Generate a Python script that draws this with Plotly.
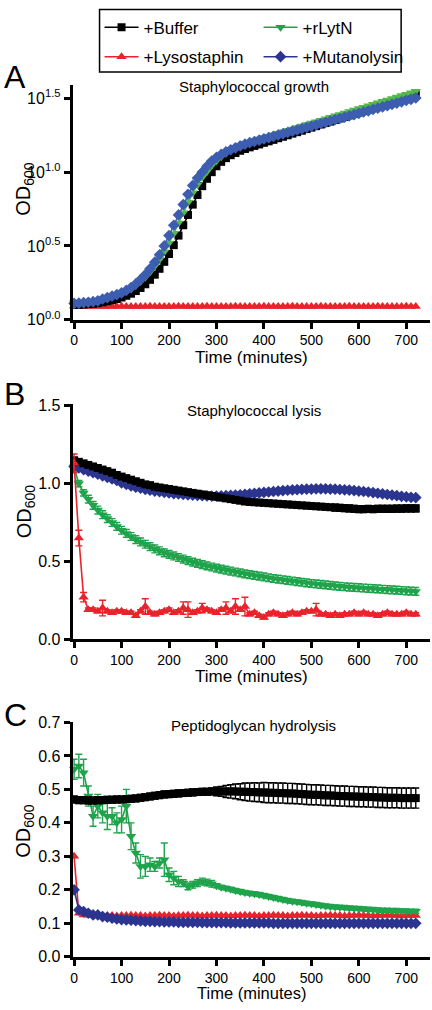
import plotly.graph_objects as go

# ---------------- data ----------------
time_min = list(range(0, 730, 10))  # sampling times (minutes)

# Panel A: growth, values are log10(OD600) exponents as read from the 10^x axis
A_buffer = [0.100,0.101,0.103,0.105,0.108,0.112,0.118,0.125,0.132,0.140,
            0.150,0.162,0.176,0.194,0.215,0.240,0.270,0.305,0.345,0.392,
            0.445,0.505,0.570,0.640,0.710,0.780,0.845,0.905,0.955,1.000,
            1.040,1.070,1.095,1.115,1.130,1.145,1.157,1.168,1.178,1.188,
            1.199,1.209,1.219,1.230,1.240,1.250,1.261,1.271,1.281,1.292,
            1.302,1.312,1.323,1.333,1.343,1.354,1.364,1.374,1.385,1.395,
            1.405,1.416,1.426,1.436,1.447,1.457,1.467,1.478,1.488,1.498,
            1.509,1.519,1.530]
A_rlytn = [0.115,0.117,0.120,0.123,0.127,0.132,0.140,0.148,0.157,0.167,
           0.178,0.192,0.210,0.232,0.258,0.288,0.323,0.363,0.408,0.460,
           0.520,0.585,0.655,0.725,0.795,0.860,0.915,0.965,1.005,1.045,
           1.078,1.105,1.128,1.148,1.165,1.180,1.193,1.205,1.215,1.225,
           1.235,1.244,1.254,1.264,1.274,1.284,1.293,1.303,1.313,1.323,
           1.333,1.342,1.352,1.362,1.372,1.382,1.391,1.401,1.411,1.421,
           1.431,1.440,1.450,1.460,1.470,1.480,1.489,1.499,1.509,1.519,
           1.529,1.538,1.548]
A_lyso = [0.092,0.091,0.090,0.090,0.091,0.090,0.090,0.089,0.090,0.090,
          0.091,0.090,0.090,0.089,0.090,0.090,0.091,0.090,0.090,0.089,
          0.090,0.090,0.091,0.090,0.090,0.089,0.090,0.090,0.091,0.090,
          0.090,0.089,0.090,0.090,0.091,0.090,0.090,0.089,0.090,0.090,
          0.091,0.090,0.090,0.089,0.090,0.090,0.091,0.090,0.090,0.089,
          0.090,0.090,0.091,0.090,0.090,0.089,0.090,0.090,0.091,0.090,
          0.090,0.089,0.090,0.090,0.091,0.090,0.090,0.089,0.090,0.090,
          0.091,0.090,0.090]
A_muta = [0.110,0.112,0.115,0.118,0.122,0.128,0.140,0.150,0.160,0.170,
          0.182,0.198,0.218,0.242,0.272,0.305,0.345,0.390,0.440,0.500,
          0.570,0.640,0.710,0.780,0.850,0.910,0.960,1.000,1.040,1.075,
          1.100,1.120,1.138,1.152,1.165,1.178,1.190,1.200,1.208,1.217,
          1.226,1.234,1.243,1.252,1.260,1.269,1.278,1.286,1.295,1.304,
          1.312,1.321,1.330,1.338,1.347,1.356,1.364,1.373,1.382,1.390,
          1.399,1.408,1.416,1.425,1.434,1.442,1.451,1.460,1.468,1.477,
          1.486,1.494,1.503]

# Panel B: lysis (OD600)
B_buffer = [1.150,1.140,1.130,1.120,1.110,1.100,1.090,1.080,1.070,1.055,
            1.045,1.035,1.025,1.015,1.005,0.995,0.990,0.980,0.975,0.970,
            0.965,0.960,0.955,0.950,0.945,0.940,0.935,0.930,0.925,0.920,
            0.915,0.910,0.905,0.900,0.895,0.890,0.885,0.882,0.880,0.878,
            0.876,0.874,0.872,0.870,0.868,0.866,0.864,0.862,0.860,0.858,
            0.856,0.854,0.852,0.850,0.848,0.846,0.844,0.842,0.840,0.838,
            0.836,0.836,0.837,0.836,0.838,0.838,0.838,0.838,0.839,0.839,
            0.840,0.840,0.840]
B_buffer_err = [0.008]*40 + [0.012]*15 + [0.022]*18
B_rlytn = [1.100,1.000,0.940,0.900,0.860,0.830,0.800,0.775,0.750,0.725,
           0.700,0.680,0.660,0.640,0.625,0.610,0.595,0.580,0.568,0.555,
           0.545,0.535,0.525,0.515,0.505,0.495,0.487,0.479,0.471,0.464,
           0.457,0.450,0.444,0.438,0.432,0.426,0.420,0.415,0.410,0.405,
           0.400,0.395,0.390,0.386,0.382,0.378,0.374,0.370,0.366,0.362,
           0.358,0.355,0.352,0.349,0.346,0.343,0.340,0.337,0.335,0.333,
           0.331,0.329,0.327,0.325,0.323,0.321,0.319,0.317,0.315,0.313,
           0.311,0.309,0.307]
B_rlytn_err = [0.02]*3 + [0.025]*70
B_lyso = [1.130,0.650,0.270,0.190,0.190,0.180,0.200,0.180,0.170,0.180,
          0.180,0.170,0.170,0.150,0.180,0.210,0.170,0.160,0.170,0.180,
          0.190,0.170,0.180,0.200,0.190,0.170,0.180,0.200,0.190,0.180,
          0.170,0.190,0.200,0.180,0.210,0.190,0.210,0.160,0.170,0.150,
          0.140,0.160,0.170,0.160,0.150,0.160,0.170,0.160,0.170,0.180,
          0.180,0.190,0.160,0.160,0.150,0.160,0.150,0.160,0.160,0.170,
          0.160,0.170,0.160,0.160,0.150,0.160,0.170,0.160,0.160,0.160,
          0.170,0.160,0.160]
B_lyso_err = [0.06,0.05,0.03,0.01,0.01,0.01,0.05,0.01,0.01,0.01,
              0.01,0.01,0.01,0.01,0.01,0.05,0.01,0.01,0.01,0.01,
              0.01,0.01,0.01,0.04,0.05,0.01,0.01,0.03,0.01,0.01,
              0.01,0.01,0.04,0.01,0.05,0.01,0.06,0.01,0.01,0.01,
              0.01,0.01,0.01,0.01,0.01,0.01,0.01,0.01,0.01,0.01,
              0.01,0.04,0.01,0.01,0.01,0.01,0.01,0.01,0.01,0.01,
              0.01,0.01,0.01,0.01,0.01,0.01,0.01,0.01,0.01,0.01,
              0.01,0.01,0.01]
B_muta = [1.110,1.100,1.090,1.080,1.070,1.060,1.050,1.040,1.030,1.020,
          1.005,0.995,0.985,0.977,0.970,0.963,0.957,0.952,0.948,0.944,
          0.940,0.936,0.933,0.930,0.928,0.926,0.924,0.922,0.921,0.920,
          0.920,0.921,0.922,0.924,0.926,0.928,0.931,0.934,0.937,0.940,
          0.943,0.946,0.949,0.952,0.955,0.957,0.959,0.961,0.963,0.964,
          0.965,0.966,0.966,0.966,0.965,0.964,0.962,0.960,0.958,0.955,
          0.952,0.949,0.946,0.942,0.938,0.934,0.930,0.926,0.922,0.918,
          0.915,0.912,0.910]

# Panel C: peptidoglycan hydrolysis (OD600)
C_buffer = [0.470,0.468,0.468,0.467,0.467,0.468,0.468,0.469,0.469,0.470,
            0.470,0.471,0.472,0.473,0.475,0.477,0.479,0.481,0.483,0.485,
            0.486,0.487,0.488,0.489,0.490,0.491,0.492,0.493,0.493,0.494,
            0.494,0.494,0.494,0.494,0.494,0.493,0.493,0.492,0.492,0.491,
            0.491,0.490,0.490,0.489,0.489,0.488,0.488,0.487,0.486,0.485,
            0.484,0.484,0.483,0.482,0.482,0.481,0.480,0.480,0.479,0.479,
            0.478,0.478,0.477,0.477,0.476,0.476,0.475,0.475,0.475,0.474,
            0.474,0.474,0.474]
C_buffer_err = ([0.010]*30 +
                [0.013,0.015,0.018,0.020,0.022,0.024,0.026,0.027,0.028,0.028] +
                [0.030]*33)
C_rlytn = [0.560,0.570,0.550,0.480,0.420,0.450,0.430,0.420,0.420,0.400,
           0.410,0.450,0.360,0.310,0.270,0.270,0.275,0.270,0.280,0.290,
           0.245,0.235,0.225,0.220,0.210,0.215,0.220,0.225,0.222,0.218,
           0.212,0.208,0.205,0.202,0.198,0.195,0.192,0.190,0.188,0.186,
           0.183,0.180,0.177,0.174,0.171,0.168,0.166,0.164,0.162,0.160,
           0.158,0.156,0.154,0.152,0.150,0.149,0.148,0.147,0.146,0.145,
           0.144,0.143,0.142,0.141,0.140,0.139,0.139,0.138,0.138,0.137,
           0.137,0.136,0.136]
C_rlytn_err = ([0.030,0.035,0.040,0.030,0.030,0.035,0.030,0.040,0.025,0.030,
                0.040,0.050,0.040,0.030,0.035,0.030,0.020,0.015,0.015,0.050,
                0.020,0.020,0.015,0.010,0.010,0.010,0.010,0.010,0.010,0.010] +
               [0.006]*43)
C_lyso = [0.300,0.130,0.125,0.124,0.123,0.123,0.124,0.123,0.123,0.122,
          0.123,0.123,0.124,0.123,0.123,0.122,0.123,0.123,0.124,0.123,
          0.123,0.122,0.123,0.123,0.124,0.123,0.123,0.122,0.123,0.123,
          0.124,0.123,0.123,0.122,0.123,0.123,0.124,0.123,0.123,0.122,
          0.123,0.123,0.124,0.123,0.123,0.122,0.123,0.123,0.124,0.123,
          0.123,0.122,0.123,0.123,0.124,0.123,0.123,0.122,0.123,0.123,
          0.124,0.123,0.123,0.122,0.123,0.123,0.124,0.123,0.123,0.122,
          0.123,0.123,0.123]
C_muta = [0.200,0.140,0.135,0.130,0.125,0.125,0.120,0.118,0.115,0.113,
          0.111,0.110,0.109,0.108,0.107,0.106,0.106,0.105,0.105,0.104,
          0.104,0.104,0.103,0.103,0.103,0.103,0.103,0.102,0.102,0.102,
          0.102,0.102,0.102,0.101,0.101,0.101,0.101,0.101,0.101,0.101,
          0.101,0.101,0.100,0.100,0.100,0.100,0.100,0.100,0.100,0.100,
          0.100,0.100,0.100,0.100,0.100,0.100,0.100,0.100,0.100,0.100,
          0.100,0.100,0.100,0.100,0.100,0.100,0.100,0.100,0.100,0.100,
          0.100,0.100,0.100]

A_ticks = [0.0, 0.5, 1.0, 1.5]
A_ticktext = ["10<sup>0.0</sup>", "10<sup>0.5</sup>", "10<sup>1.0</sup>", "10<sup>1.5</sup>"]
x_ticks = [0, 100, 200, 300, 400, 500, 600, 700]

# ---------------- styling ----------------
W, H = 432, 1010
BLACK = "#000000"
GREEN = "#1fa34b"
RED = "#e8232b"
BLUE = "#2b3590"
GREEN_A = "#52b84a"
BLUE_A = "#3c5db0"
FONT = "Liberation Sans, Arial, sans-serif"

def py(p):
    return 1 - p / H

fig = go.Figure()

def add(xa, ya, y, name, color, symbol, err=None, legend=None, rank=1, size=8):
    tr = dict(x=time_min, y=y, name=name, mode="lines+markers",
              line=dict(color=color, width=1.6),
              marker=dict(color=color, symbol=symbol, size=size, line=dict(width=0)),
              xaxis=xa, yaxis=ya, showlegend=legend is not None, legendrank=rank,
              cliponaxis=False, hoverinfo="skip")
    if legend is not None:
        tr["legend"] = legend
    if err is not None:
        tr["error_y"] = dict(type="data", array=err, color=color, thickness=1.4, width=3.5)
    fig.add_trace(go.Scatter(**tr))

# Panel A (black under green under blue)
add("x", "y", A_lyso, "+Lysostaphin", RED, "triangle-up", size=9)
add("x", "y", A_buffer, "+Buffer", BLACK, "square", size=8)
add("x", "y", A_rlytn, "+rLytN", GREEN_A, "triangle-down", size=9)
add("x", "y", A_muta, "+Mutanolysin", BLUE_A, "diamond", size=9)

# Panel B
add("x2", "y2", B_rlytn, "+rLytN", GREEN, "triangle-down", B_rlytn_err, "legend", 2, 9)
add("x2", "y2", B_muta, "+Mutanolysin", BLUE, "diamond", None, "legend2", 2, 9)
add("x2", "y2", B_buffer, "+Buffer", BLACK, "square", B_buffer_err, "legend", 1, 8)
add("x2", "y2", B_lyso, "+Lysostaphin", RED, "triangle-up", B_lyso_err, "legend2", 1, 9)

# Panel C
add("x3", "y3", C_lyso, "+Lysostaphin", RED, "triangle-up", size=9)
add("x3", "y3", C_muta, "+Mutanolysin", BLUE, "diamond", size=9)
add("x3", "y3", C_rlytn, "+rLytN", GREEN, "triangle-down", C_rlytn_err, size=9)
add("x3", "y3", C_buffer, "+Buffer", BLACK, "square", C_buffer_err, size=8)

xdom = [71 / W, 430 / W]
axis_common = dict(showline=True, linewidth=3, linecolor="black", ticks="outside",
                   ticklen=6, tickwidth=3, tickcolor="black", showgrid=False,
                   zeroline=False, mirror=False)
xcommon = dict(axis_common, range=[-3, 750], tickvals=x_ticks,
               tickfont=dict(family=FONT, size=14, color="black"))

panels = {
    "": (317, 78),
    "2": (642, 403),
    "3": (965, 726),
}
layout = dict(width=W, height=H, margin=dict(l=0, r=0, t=0, b=0),
              plot_bgcolor="white", paper_bgcolor="white",
              font=dict(family=FONT, color="black"))
for k, (bot, top) in panels.items():
    layout["xaxis" + k] = dict(xcommon, domain=xdom, anchor="y" + k)
    layout["yaxis" + k] = dict(axis_common, domain=[py(bot), py(top)], anchor="x" + k,
                               tickfont=dict(family=FONT, size=16, color="black"))
layout["yaxis"].update(range=[0, 1.593], tickvals=A_ticks, ticktext=A_ticktext)
layout["yaxis2"].update(range=[0, 1.51], tickvals=[0, 0.5, 1.0, 1.5], tickformat=".1f")
layout["yaxis3"].update(range=[0, 0.702], tickvals=[0, 0.1, 0.2, 0.3, 0.4, 0.5, 0.6, 0.7],
                        tickformat=".1f")

leg_common = dict(orientation="h", x=98 / W, xanchor="left", yanchor="middle",
                  borderwidth=0, bgcolor="rgba(0,0,0,0)",
                  font=dict(family=FONT, size=17, color="black"),
                  entrywidth=110, entrywidthmode="pixels", itemwidth=34,
                  traceorder="normal")
layout["legend"] = dict(leg_common, y=py(20))
layout["legend2"] = dict(leg_common, y=py(50))
layout["shapes"] = [dict(type="rect", xref="paper", yref="paper",
                         x0=98 / W, x1=401 / W, y0=py(65), y1=py(1.5),
                         line=dict(color="black", width=1.5), fillcolor="rgba(0,0,0,0)")]
fig.update_layout(**layout)

ann = []
for letter, yc in (("A", 70), ("B", 393), ("C", 719)):
    ann.append(dict(text=letter, x=0, y=py(yc), xref="paper", yref="paper",
                    xanchor="left", yanchor="middle", showarrow=False,
                    font=dict(family=FONT, size=32, color="black")))
for title, yc in (("Staphylococcal growth", 80), ("Staphylococcal lysis", 409),
                  ("Peptidoglycan hydrolysis", 730)):
    ann.append(dict(text=title, x=253 / W, y=py(yc), xref="paper", yref="paper",
                    xanchor="center", yanchor="middle", showarrow=False,
                    font=dict(family=FONT, size=15, color="black")))
for yc, fs in ((355, 17), (680, 17), (1002, 16.5)):
    ann.append(dict(text="Time (minutes)", x=251 / W, y=py(yc), xref="paper", yref="paper",
                    xanchor="center", yanchor="middle", showarrow=False,
                    font=dict(family=FONT, size=fs, color="black")))
for yc in (184, 512, 837):
    ann.append(dict(text="OD<sub>600</sub>", x=23 / W, y=py(yc), xref="paper", yref="paper",
                    xanchor="center", yanchor="middle", showarrow=False, textangle=-90,
                    font=dict(family=FONT, size=20, color="black")))
fig.update_layout(annotations=ann)

fig.write_html("out.html", config={"displayModeBar": False, "staticPlot": True},
               post_script="document.body.style.margin='0';document.body.style.overflow='hidden';")
